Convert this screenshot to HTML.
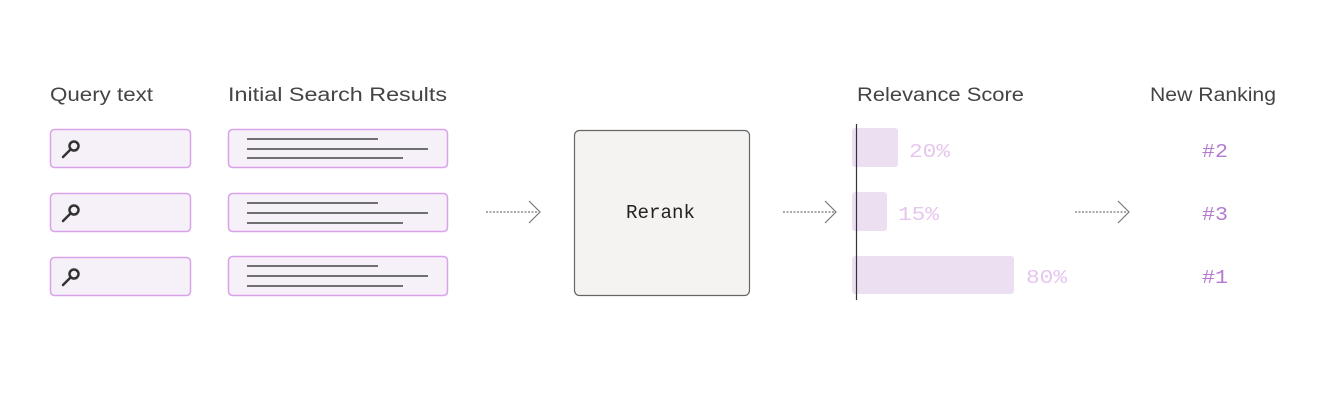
<!DOCTYPE html>
<html><head><style>html,body{margin:0;padding:0;background:#fff}svg{display:block}</style></head>
<body>
<svg width="1342" height="402" viewBox="0 0 1342 402" xmlns="http://www.w3.org/2000/svg" font-family="Liberation Sans, sans-serif">
<rect width="1342" height="402" fill="#fff"/>
<g font-size="19" fill="#444">
<text x="50" y="101" textLength="103" lengthAdjust="spacingAndGlyphs">Query text</text>
<text x="228" y="101" textLength="219" lengthAdjust="spacingAndGlyphs">Initial Search Results</text>
<text x="857" y="101" textLength="167" lengthAdjust="spacingAndGlyphs">Relevance Score</text>
<text x="1150" y="101" textLength="126" lengthAdjust="spacingAndGlyphs">New Ranking</text>
</g>
<g fill="#f6f1f8" stroke="#d9a2ea" stroke-width="1.5">
<rect x="50.5" y="129.5" width="140" height="38" rx="4"/>
<rect x="50.5" y="193.5" width="140" height="38" rx="4"/>
<rect x="50.5" y="257.5" width="140" height="38" rx="4"/>
<rect x="228.5" y="129.5" width="219" height="38" rx="4"/>
<rect x="228.5" y="193.5" width="219" height="38" rx="4"/>
<rect x="228.5" y="256.5" width="219" height="39" rx="4"/>
</g>
<g stroke="#333" stroke-width="2.5" fill="none">
<circle cx="74" cy="146" r="4.5"/><line x1="70.5" y1="149.5" x2="63" y2="157" stroke-linecap="round"/>
<circle cx="74" cy="210" r="4.5"/><line x1="70.5" y1="213.5" x2="63" y2="221" stroke-linecap="round"/>
<circle cx="74" cy="274" r="4.5"/><line x1="70.5" y1="277.5" x2="63" y2="285" stroke-linecap="round"/>
</g>
<g stroke="#444" stroke-width="1.5">
<line x1="247" y1="139" x2="378" y2="139"/><line x1="247" y1="149" x2="428" y2="149"/><line x1="247" y1="158" x2="403" y2="158"/>
<line x1="247" y1="203" x2="378" y2="203"/><line x1="247" y1="213" x2="428" y2="213"/><line x1="247" y1="223" x2="403" y2="223"/>
<line x1="247" y1="266" x2="378" y2="266"/><line x1="247" y1="276" x2="428" y2="276"/><line x1="247" y1="286" x2="403" y2="286"/>
</g>
<rect x="574.5" y="130.5" width="175" height="165" rx="5" fill="#f4f3f2" stroke="#666" stroke-width="1.2"/>
<text x="626" y="218" font-size="19" fill="#222" font-family="Liberation Mono, monospace" textLength="69" lengthAdjust="spacingAndGlyphs">Rerank</text>
<g stroke="#777" stroke-width="1.2" fill="none">
<line x1="486" y1="212" x2="538" y2="212" stroke-dasharray="2 1.5"/><polyline points="529,201 540,212 529,223"/>
<line x1="783" y1="212" x2="834" y2="212" stroke-dasharray="2 1.5"/><polyline points="825,201 836,212 825,223"/>
<line x1="1075" y1="212" x2="1127" y2="212" stroke-dasharray="2 1.5"/><polyline points="1118,201 1129,212 1118,223"/>
</g>
<g fill="#ecdff2">
<rect x="852" y="128" width="46" height="39" rx="3"/>
<rect x="852" y="192" width="35" height="39" rx="3"/>
<rect x="852" y="256" width="162" height="38" rx="3"/>
</g>
<line x1="856.5" y1="124" x2="856.5" y2="300" stroke="#333" stroke-width="1.2"/>
<g font-family="Liberation Mono, monospace" font-size="19" fill="#e6c6ee">
<text x="909" y="157" textLength="41" lengthAdjust="spacingAndGlyphs">20%</text><text x="898" y="220" textLength="41" lengthAdjust="spacingAndGlyphs">15%</text><text x="1026" y="283" textLength="41" lengthAdjust="spacingAndGlyphs">80%</text>
</g>
<g font-family="Liberation Mono, monospace" font-size="19" fill="#b57ad0">
<text x="1202" y="157" textLength="26" lengthAdjust="spacingAndGlyphs">#2</text><text x="1202" y="220" textLength="26" lengthAdjust="spacingAndGlyphs">#3</text><text x="1202" y="283" textLength="26" lengthAdjust="spacingAndGlyphs">#1</text>
</g>
</svg>
</body></html>
